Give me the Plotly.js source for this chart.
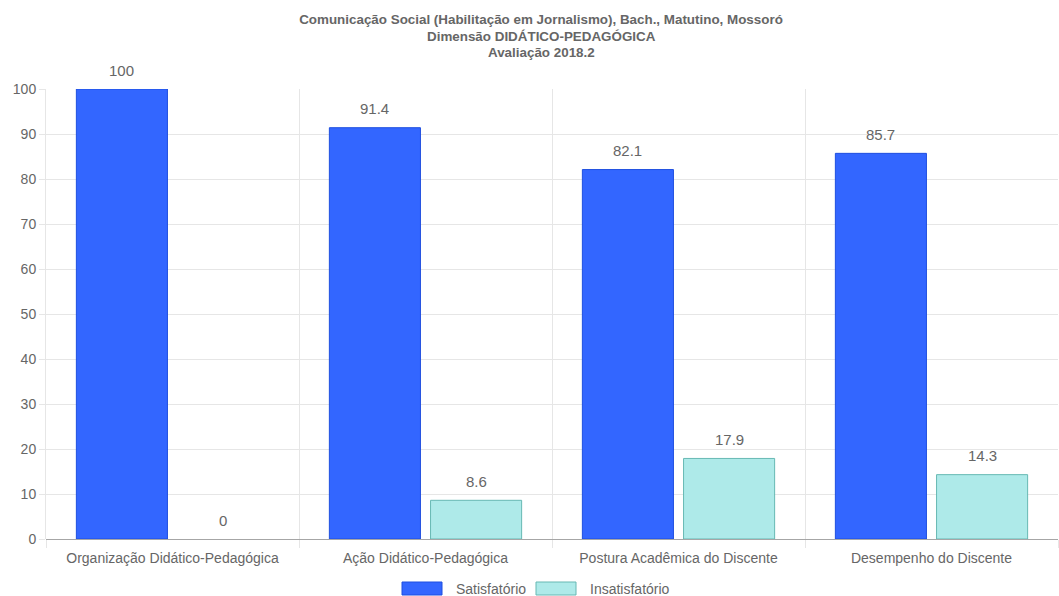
<!DOCTYPE html>
<html>
<head>
<meta charset="utf-8">
<script src="https://cdn.plot.ly/plotly-3.0.1.min.js"></script>
<style>html,body{margin:0;padding:0;background:#fff;}#chart{width:1059px;height:596px;}</style>
</head>
<body>
<div id="chart"></div>
<script>
const categories = ["Organização Didático-Pedagógica", "Ação Didático-Pedagógica", "Postura Acadêmica do Discente", "Desempenho do Discente"];
const seriesNames = ["Satisfatório", "Insatisfatório"];
const satisfatorio = [100, 91.4, 82.1, 85.7];
const insatisfatorio = [0, 8.6, 17.9, 14.3];
const titleLines = ["Comunicação Social (Habilitação em Jornalismo), Bach., Matutino, Mossoró", "Dimensão DIDÁTICO-PEDAGÓGICA", "Avaliação 2018.2"];
const yTicks = [0, 10, 20, 30, 40, 50, 60, 70, 80, 90, 100];

const W = 1059, H = 596;
const M = {l: 46, r: 1, t: 89, b: 57};
const plotW = W - M.l - M.r, plotH = H - M.t - M.b;
const FONT = "Liberation Sans, Arial, Helvetica, sans-serif";
const GREY = "#666666";

const fills = ["#3366ff", "#aeeae9"];
const borders = ["#1f4fe0", "#66b8b3"];
const seriesData = [satisfatorio, insatisfatorio];

const traces = seriesData.map((vals, i) => ({
  type: "bar",
  name: seriesNames[i],
  x: categories,
  y: vals,
  marker: {color: fills[i], line: {color: borders[i], width: vals.map(v => v === 0 ? 0 : 1)}},
  hoverinfo: "x+y",
  showlegend: false
}));

const px2x = p => (p - M.l) / plotW;
const py2y = p => (H - M.b - p) / plotH;

// value labels above bars
const catPx = plotW / categories.length;
const slot = catPx * 0.8 / 2;
const annotations = [];
seriesData.forEach((vals, i) => {
  vals.forEach((v, j) => {
    annotations.push({
      x: categories[j], y: v, xref: "x", yref: "y",
      text: String(v), showarrow: false,
      xshift: (i === 0 ? -1 : 1) * slot / 2,
      yshift: 19, yanchor: "middle",
      font: {family: FONT, size: 15, color: GREY}
    });
  });
});

// additional title lines (first line is layout.title)
const titleY = [19, 36, 53];
titleLines.slice(1).forEach((t, k) => {
  annotations.push({
    xref: "paper", yref: "paper",
    x: px2x(541), y: py2y(titleY[k + 1]),
    xanchor: "center", yanchor: "middle",
    text: "<b>" + t + "</b>", showarrow: false,
    font: {family: FONT, size: 13.4, color: GREY}
  });
});

// custom legend (Chart.js style)
const legendItems = [
  {box: [402, 442], textX: 454},
  {box: [536, 576], textX: 588}
];
const shapes = [];
legendItems.forEach((it, i) => {
  shapes.push({
    type: "rect", xref: "paper", yref: "paper",
    x0: px2x(it.box[0]), x1: px2x(it.box[1]),
    y0: py2y(595), y1: py2y(582),
    fillcolor: fills[i], line: {color: borders[i], width: 1}
  });
  annotations.push({
    xref: "paper", yref: "paper",
    x: px2x(it.textX), y: py2y(588.5),
    xanchor: "left", yanchor: "middle",
    text: seriesNames[i], showarrow: false,
    font: {family: FONT, size: 14, color: GREY}
  });
});

const layout = {
  width: W, height: H,
  margin: M,
  paper_bgcolor: "#ffffff",
  plot_bgcolor: "#ffffff",
  barmode: "group",
  bargap: 0.2,
  bargroupgap: 0.1,
  showlegend: false,
  title: {
    text: "<b>" + titleLines[0] + "</b>",
    font: {family: FONT, size: 13.4, color: GREY},
    x: 541 / W, xref: "container", xanchor: "center",
    y: 1 - 19 / H, yref: "container", yanchor: "middle"
  },
  xaxis: {
    type: "category",
    tickson: "boundaries",
    showgrid: true,
    gridcolor: "#e6e6e6",
    gridwidth: 1,
    ticks: "outside",
    ticklen: 8,
    tickcolor: "#e6e6e6",
    ticklabelstandoff: 9,
    showline: false,
    tickfont: {family: FONT, size: 14, color: GREY},
    automargin: false
  },
  yaxis: {
    range: [0, 100],
    tickvals: yTicks,
    showgrid: true,
    gridcolor: "#e6e6e6",
    gridwidth: 1,
    zeroline: true,
    zerolinecolor: "#a6a6a6",
    zerolinewidth: 1,
    ticks: "outside",
    ticklen: 6,
    tickcolor: "#e6e6e6",
    showline: true,
    linecolor: "#e6e6e6",
    tickfont: {family: FONT, size: 14, color: GREY},
    automargin: false
  },
  annotations: annotations,
  shapes: shapes
};

Plotly.newPlot("chart", traces, layout, {displayModeBar: false, staticPlot: true});
</script>
</body>
</html>
